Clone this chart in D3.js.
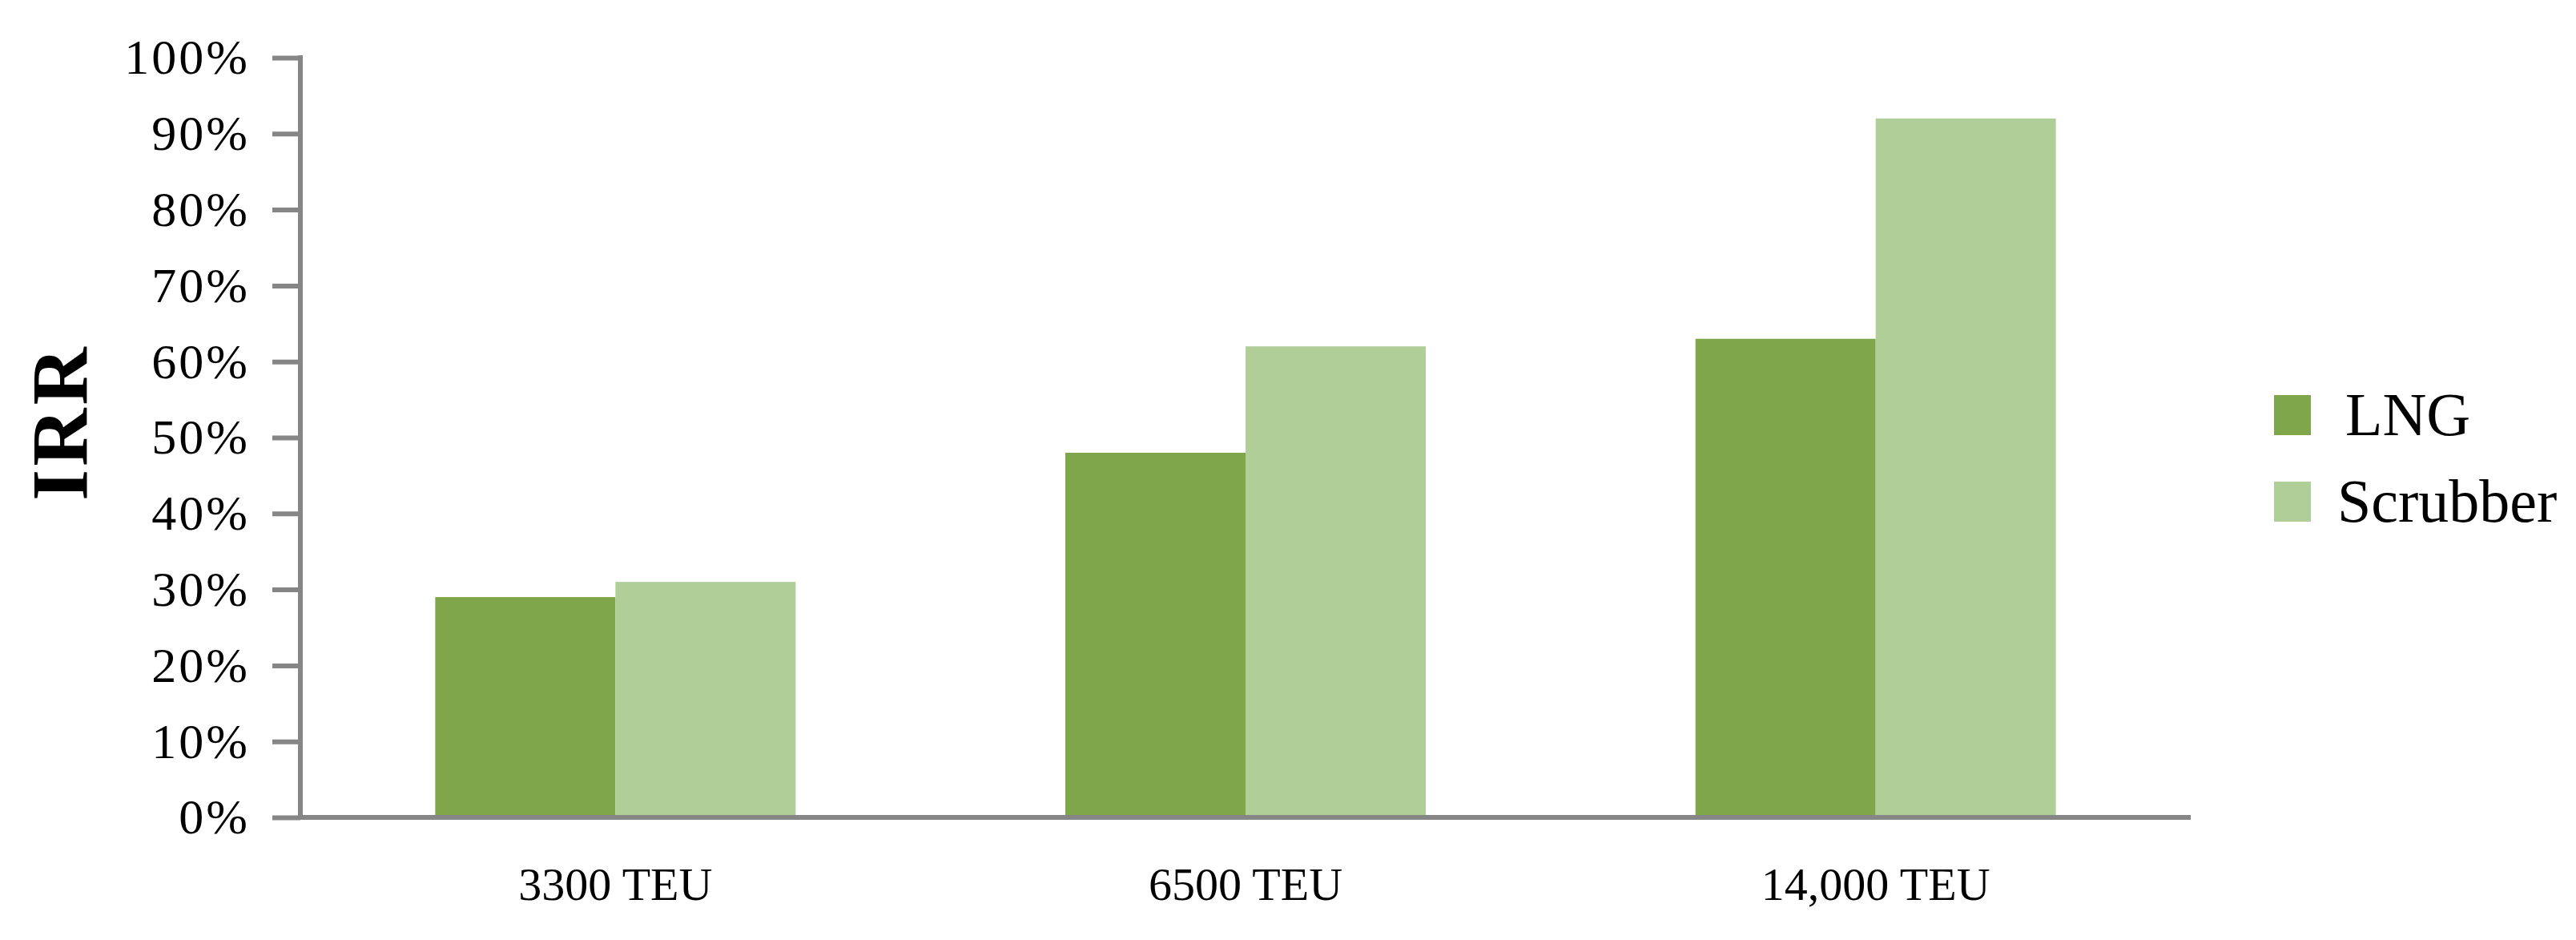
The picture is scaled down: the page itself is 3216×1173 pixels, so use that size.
<!DOCTYPE html>
<html>
<head>
<meta charset="utf-8">
<script src="https://cdn.jsdelivr.net/npm/d3@7"></script>
<style>
  body { margin: 0; background: #fff; }
  svg { display: block; }
</style>
</head>
<body>
<svg id="chart" width="3216" height="1173"></svg>
<script>
// data
const categories = ['3300 TEU', '6500 TEU', '14,000 TEU']
const seriesNames = ['LNG', 'Scrubber']
const lngValues = [0.29, 0.48, 0.63]
const scrubberValues = [0.31, 0.62, 0.92]
const yTicks = [0, 0.1, 0.2, 0.3, 0.4, 0.5, 0.6, 0.7, 0.8, 0.9, 1.0]

const colors = ['#7fa64a', '#b0ce97']
const axisColor = '#868686'
const serif = '"Liberation Serif", "Times New Roman", serif'

const svg = d3.select('#chart')

const plot = { left: 375, right: 2735, top: 72, bottom: 1020 }

const x = d3.scaleBand()
    .domain(categories)
    .range([plot.left, plot.right])
    .paddingInner(0.428)
    .paddingOuter(0.214)

const xInner = d3.scaleBand()
    .domain(seriesNames)
    .range([0, x.bandwidth()])

const y = d3.scaleLinear()
    .domain([0, 1])
    .range([plot.bottom, plot.top])

const rows = categories.map((c, i) => ({
    cat: c,
    vals: [
        { name: 'LNG', v: lngValues[i] },
        { name: 'Scrubber', v: scrubberValues[i] }
    ]
}))

// bars
svg.append('g')
    .selectAll('g')
    .data(rows)
    .enter()
    .append('g')
        .attr('transform', d => `translate(${x(d.cat)},0)`)
    .selectAll('rect')
    .data(d => d.vals)
    .enter()
    .append('rect')
        .attr('x', d => xInner(d.name))
        .attr('y', d => y(d.v))
        .attr('width', xInner.bandwidth())
        .attr('height', d => y(0) - y(d.v))
        .style('fill', (d, i) => colors[i])

// y axis
const yAxis = svg.append('g')
    .attr('transform', `translate(${plot.left},0)`)
    .call(d3.axisLeft(y)
        .tickValues(yTicks)
        .tickSize(35)
        .tickPadding(28)
        .tickFormat(d3.format('.0%')))
yAxis.select('.domain').remove()
yAxis.append('line')
    .attr('x1', 0).attr('x2', 0)
    .attr('y1', plot.top - 3).attr('y2', plot.bottom)
    .attr('stroke', axisColor)
    .attr('stroke-width', 6)
yAxis.selectAll('.tick line')
    .attr('stroke', axisColor)
    .attr('stroke-width', 6)
yAxis.selectAll('.tick text')
    .style('font-family', serif)
    .style('font-size', '62px')
    .style('letter-spacing', '3px')
    .attr('fill', '#000')

// x axis
const xAxis = svg.append('g')
    .attr('transform', `translate(0,${plot.bottom})`)
    .call(d3.axisBottom(x).tickSize(0).tickPadding(0))
xAxis.select('.domain').remove()
xAxis.append('line')
    .attr('x1', plot.left - 3).attr('x2', plot.right)
    .attr('y1', 0).attr('y2', 0)
    .attr('stroke', axisColor)
    .attr('stroke-width', 6)
xAxis.selectAll('.tick text')
    .attr('dy', null)
    .attr('y', 103)
    .style('font-family', serif)
    .style('font-size', '58px')
    .attr('fill', '#000')

// y title
svg.append('text')
    .attr('transform', 'translate(108,527) rotate(-90)')
    .attr('text-anchor', 'middle')
    .style('font-family', serif)
    .style('font-size', '100px')
    .style('font-weight', 'bold')
    .style('letter-spacing', '4px')
    .text('IRR')

// legend
const legend = svg.append('g')
    .attr('transform', 'translate(2839,493)')
    .selectAll('g')
    .data(seriesNames)
    .enter()
    .append('g')
        .attr('transform', (d, i) => `translate(0,${i * 108})`)
legend.append('rect')
    .attr('width', 46)
    .attr('height', 50)
    .style('fill', (d, i) => colors[i])
legend.append('text')
    .attr('x', (d, i) => i == 0 ? 89 : 79)
    .attr('y', 50)
    .style('font-family', serif)
    .style('font-size', '76px')
    .text(d => d)
</script>
</body>
</html>
